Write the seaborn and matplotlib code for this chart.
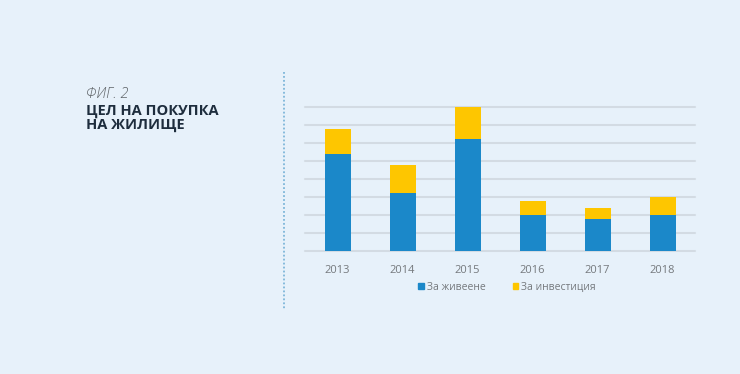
import matplotlib
matplotlib.use("Agg")
from matplotlib import pyplot as plt
from matplotlib.patches import Patch
from matplotlib.lines import Line2D
import pandas as pd
import seaborn as sns

# data
years = ['2013', '2014', '2015', '2016', '2017', '2018']
living = [5.4, 3.2, 6.2, 2.0, 1.8, 2.0]      # За живеене
investment = [1.4, 1.6, 1.8, 0.8, 0.6, 1.0]  # За инвестиция
series_names = ['За живеене', 'За инвестиция']

BG = '#e7f1fa'
BLUE = '#1b88c9'
YELLOW = '#fec600'
GRID = '#d3dbe3'
TEXT = '#75797d'
NAVY = '#1e2d3d'

sns.set_theme(style='white')
plt.rcParams['font.family'] = ['Open Sans', 'DejaVu Sans']

df = pd.DataFrame({'year': years, 'living': living, 'investment': investment})
df['total'] = df['living'] + df['investment']

fig = plt.figure(figsize=(7.4, 3.74), dpi=100)
fig.patch.set_facecolor(BG)
ax = fig.add_axes([305 / 740, (374 - 251) / 374, 390 / 740, 144 / 374])
ax.set_facecolor(BG)

# stacked bars: total (yellow) underneath, living (blue) on top
sns.barplot(data=df, x='year', y='total', color=YELLOW, saturation=1,
            width=0.4, linewidth=0, ax=ax, zorder=3)
sns.barplot(data=df, x='year', y='living', color=BLUE, saturation=1,
            width=0.4, linewidth=0, ax=ax, zorder=3)

ax.set_ylim(0, 8)
ax.set_xlim(-0.5, 5.5)
ax.set_yticks(range(0, 9))
ax.yaxis.grid(True, color=GRID, linewidth=1.5, zorder=0)
for gl in ax.get_ygridlines():
    gl.set_clip_on(False)
ax.set_yticklabels([])
ax.tick_params(axis='both', length=0)
ax.tick_params(axis='x', pad=10, labelsize=8, labelcolor=TEXT)
ax.set_xlabel('')
ax.set_ylabel('')
sns.despine(ax=ax, left=True, bottom=True, top=True, right=True)

# legend
handles = [Patch(color=BLUE, label=series_names[0]),
           Patch(color=YELLOW, label=series_names[1])]
fig.legend(handles=handles, loc='center', bbox_to_anchor=(507 / 740, 1 - 287 / 374),
           ncol=2, frameon=False, fontsize=7.5, labelcolor=TEXT,
           handlelength=0.55, handleheight=0.55, handletextpad=0.3,
           columnspacing=2.6)

# title block
fig.text(86 / 740, 1 - 98 / 374, 'ФИГ. 2', fontsize=10.5, style='italic',
         weight='light', color='#5f6468', va='baseline')
fig.text(86 / 740, 1 - 114.5 / 374, 'ЦЕЛ НА ПОКУПКА', fontsize=10.5, weight='bold',
         color=NAVY, va='baseline')
fig.text(86 / 740, 1 - 128.5 / 374, 'НА ЖИЛИЩЕ', fontsize=10.5, weight='bold',
         color=NAVY, va='baseline')

# dotted separator
fig.add_artist(Line2D([284 / 740, 284 / 740], [1 - 72 / 374, 1 - 310 / 374],
                      transform=fig.transFigure, color='#7db6d9',
                      linestyle=(0, (1, 1.2)), linewidth=1.3))

fig.savefig('out.png', dpi=100, facecolor=BG)
